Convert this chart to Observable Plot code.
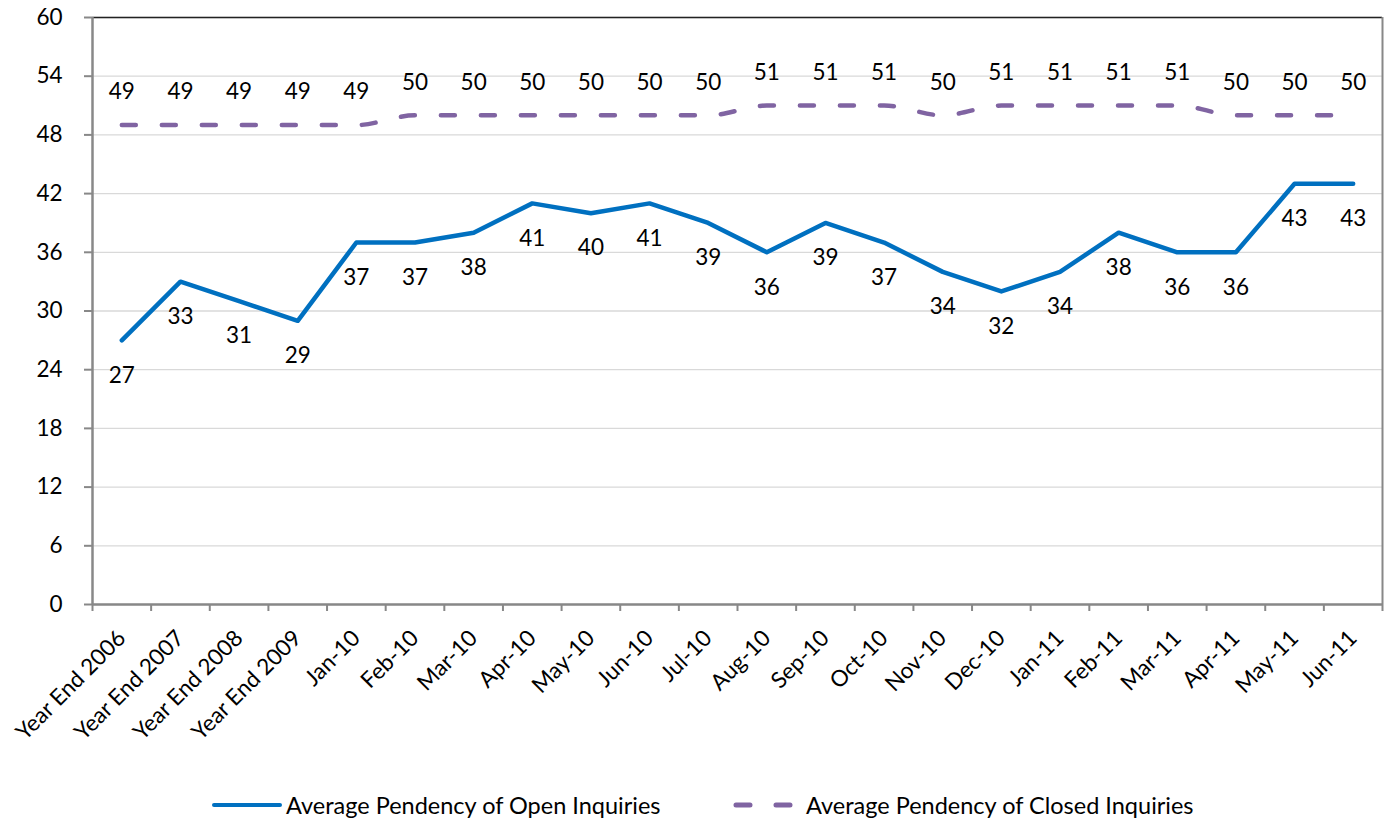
<!DOCTYPE html>
<html>
<head>
<meta charset="utf-8">
<script src="https://cdn.jsdelivr.net/npm/d3@7"></script>
<script src="https://cdn.jsdelivr.net/npm/@observablehq/plot@0.6"></script>
<style>
  body { margin: 0; background: #fff; font-family: Lato, "Open Sans", sans-serif; }
  #chart svg { display: block; }
  .legend { position: absolute; top: 790px; left: 0; width: 1394px; height: 30px; font-size: 23.5px; color: #000; }
  .legend .item { position: absolute; top: 0; display: flex; align-items: center; height: 30px; }
</style>
</head>
<body>
<div id="chart"></div>
<div class="legend">
  <div class="item" style="left:212px"><svg width="70" height="10"><line x1="2" y1="5" x2="68" y2="5" stroke="#0070C0" stroke-width="4" stroke-linecap="round"/></svg><span style="margin-left:4px">Average Pendency of Open Inquiries</span></div>
  <div class="item" style="left:733px"><svg width="66" height="10"><line x1="3" y1="5" x2="64" y2="5" stroke="#8064A2" stroke-width="5" stroke-linecap="round" stroke-dasharray="14,26"/></svg><span style="margin-left:7px">Average Pendency of Closed Inquiries</span></div>
</div>
<script>
const categories = ["Year End 2006","Year End 2007","Year End 2008","Year End 2009","Jan-10","Feb-10","Mar-10","Apr-10","May-10","Jun-10","Jul-10","Aug-10","Sep-10","Oct-10","Nov-10","Dec-10","Jan-11","Feb-11","Mar-11","Apr-11","May-11","Jun-11"];
const openInquiries = [27,33,31,29,37,37,38,41,40,41,39,36,39,37,34,32,34,38,36,36,43,43];
const closedInquiries = [49,49,49,49,49,50,50,50,50,50,50,51,51,51,50,51,51,51,51,50,50,50];
const yTicks = [0,6,12,18,24,30,36,42,48,54,60];

const openData = categories.map((c, i) => ({i: i + 0.5, c, v: openInquiries[i]}));
const closedData = categories.map((c, i) => ({i: i + 0.5, c, v: closedInquiries[i]}));

const FS = 22.5;
const chart = Plot.plot({
  width: 1394,
  height: 770,
  marginLeft: 92,
  marginRight: 12,
  marginTop: 17,
  marginBottom: 166,
  style: {fontFamily: "Lato, 'Open Sans', sans-serif", fontSize: FS + "px", color: "#000", background: "#fff"},
  x: {type: "linear", domain: [0, categories.length]},
  y: {domain: [0, 60]},
  marks: [
    Plot.gridY(yTicks, {stroke: "#d9d9d9", strokeOpacity: 1, strokeWidth: 1.3}),
    Plot.ruleY([60], {stroke: "#222", strokeWidth: 1.5}),
    Plot.ruleX([categories.length], {stroke: "#888", strokeWidth: 2}),
    Plot.axisY(yTicks, {tickSize: 8, tickPadding: 22, stroke: "#888", strokeWidth: 2, fontSize: FS, label: null}),
    Plot.ruleX([0], {stroke: "#888", strokeWidth: 2.5}),
    Plot.ruleY([0], {stroke: "#888", strokeWidth: 2.5}),
    Plot.axisX(d3.range(0, categories.length + 1), {tickSize: 7, tickFormat: () => "", stroke: "#888", strokeWidth: 2, label: null}),
    Plot.axisX(openData.map(d => d.i), {tickSize: 0, tickPadding: 30, tickRotate: -45, tickFormat: v => categories[Math.round(v - 0.5)], fontSize: FS, label: null}),
    Plot.line(closedData, {x: "i", y: "v", stroke: "#8064A2", strokeWidth: 4.5, strokeDasharray: "14,26", strokeLinecap: "round", curve: "monotone-x"}),
    Plot.line(openData, {x: "i", y: "v", stroke: "#0070C0", strokeWidth: 4.5, strokeLinejoin: "round"}),
    Plot.text(openData, {x: "i", y: "v", text: d => String(d.v), dy: 35, fontSize: FS, fill: "#000"}),
    Plot.text(closedData, {x: "i", y: "v", text: d => String(d.v), dy: -33, fontSize: FS, fill: "#000"})
  ]
});
document.getElementById("chart").appendChild(chart);
</script>
</body>
</html>
